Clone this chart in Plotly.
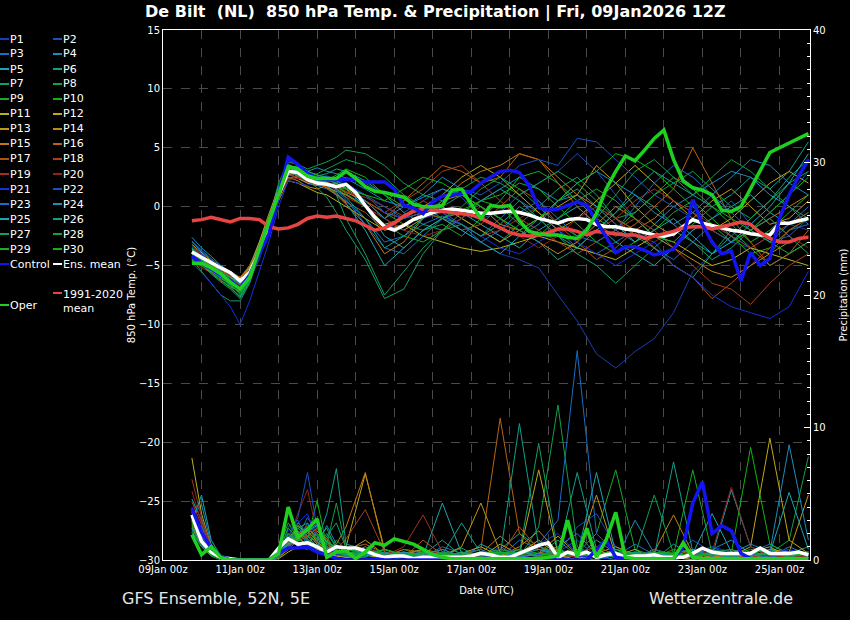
import plotly.graph_objects as go
import pandas as pd

# GFS ensemble 12Z run, 6-hourly steps from 09Jan 18z to 25Jan 18z
STEPS = pd.date_range("2026-01-09 18:00", "2026-01-25 18:00", freq="6h")
# members are read every 6h for the first 4 days, then every 12h
MEMBER_STEPS = list(range(0, 17)) + list(range(18, 65, 2))
MEMBER_TIMES = STEPS[MEMBER_STEPS]

# 850 hPa temperature (deg C), 6-hourly
CLIMATE_T = [-1.2, -1.1, -0.9, -1.1, -1.3, -1.0, -1.0, -1.1, -1.7, -1.9,
             -1.8, -1.5, -1.0, -0.8, -0.9, -0.8, -1.0, -1.2, -1.6, -2.0,
             -1.8, -1.4, -0.8, -0.4, -0.2, -0.3, -0.4, -0.45, -0.6, -0.7,
             -1.0, -1.4, -1.8, -2.2, -2.4, -2.5, -2.4, -2.2, -1.9, -1.9,
             -2.1, -2.4, -2.1, -2.2, -2.3, -2.4, -2.4, -2.7, -2.5, -2.3,
             -2.1, -1.8, -1.7, -1.7, -1.9, -1.7, -1.5, -1.3, -1.5, -2.2,
             -2.7, -3.0, -3.0, -2.7, -2.6]
MEAN_T = [-3.85, -4.3, -4.8, -5.2, -5.6, -6.3, -5.6, -3.8, -1.6, 1.0,
          3.0, 2.9, 2.3, 2.0, 1.9, 1.7, 1.9, 1.2, 0.1, -0.9,
          -1.7, -2.0, -1.6, -1.1, -0.8, -0.5, -0.3, -0.2, -0.3, -0.45,
          -0.55, -0.55, -0.45, -0.4, -0.5, -0.7, -1.0, -1.2, -1.4, -1.1,
          -1.0, -1.1, -1.5, -1.7, -1.7, -1.9, -2.0, -2.2, -2.4, -2.5,
          -2.3, -1.7, -1.1, -1.4, -1.6, -1.8, -2.0, -2.1, -2.3, -2.4,
          -2.4, -1.4, -1.4, -1.2, -1.0]
CONTROL_T = [-4.2, -4.8, -5.3, -5.8, -6.3, -6.9, -5.8, -4.0, -2.3, 1.0,
             4.2, 3.6, 2.8, 2.4, 2.3, 2.3, 2.3, 2.3, 2.1, 2.1,
             2.1, 1.5, 0.1, -0.1, -0.6, 0.4, 0.9, 1.0, 1.1, 1.3,
             2.0, 2.5, 3.0, 3.1, 2.9, 1.8, -0.1, -0.3, -0.2, 0.1,
             0.4, 0.1, -1.2, -2.6, -3.9, -3.4, -3.4, -3.7, -4.1, -3.9,
             -3.6, -2.5, 0.6, -1.5, -3.0, -4.0, -3.8, -6.3, -3.9, -5.0,
             -4.4, -1.0, 1.0, 2.6, 4.0]
OPER_T = [-4.8, -4.8, -5.2, -5.7, -6.4, -7.0, -6.0, -3.6, -1.4, 1.2,
          3.4, 3.2, 2.6, 2.4, 2.4, 2.4, 3.0, 2.4, 1.7, 1.3,
          1.2, 1.0, 0.8, 0.2, 0.0, 0.0, 0.1, 1.4, 1.5, 0.2,
          -1.0, 0.1, 0.0, 0.1, -1.2, -2.1, -2.3, -2.4, -2.4, -2.6,
          -2.7, -2.0, -0.6, 1.5, 3.0, 4.3, 3.9, 4.8, 5.8, 6.5,
          4.0, 2.2, 1.6, 1.4, 1.0, -0.3, -0.4, 0.0, 1.5, 3.0,
          4.6, 5.0, 5.4, 5.8, 6.2]

# precipitation (mm), 6-hourly
MEAN_P = [3.4, 1.4, 0.6, 0.2, 0.1, 0.0, 0.0, 0.0, 0.0, 0.9,
          1.6, 1.2, 1.3, 1.0, 0.6, 1.0, 0.9, 0.9, 0.7, 0.4,
          0.2, 0.3, 0.3, 0.1, 0.2, 0.2, 0.2, 0.2, 0.2, 0.3,
          0.5, 0.4, 0.2, 0.2, 0.5, 0.8, 1.1, 1.3, 0.2, 0.6,
          0.4, 0.6, 0.2, 0.4, 0.5, 0.2, 0.3, 0.3, 0.4, 0.2,
          0.2, 0.2, 0.5, 0.9, 0.6, 0.5, 0.5, 0.5, 0.5, 0.9,
          0.5, 0.5, 0.5, 0.6, 0.4]
CONTROL_P = [3.9, 2.1, 0.9, 0.3, 0.0, 0.0, 0.0, 0.0, 0.0, 0.5,
             0.9, 0.9, 1.0, 0.6, 0.4, 0.1, 0.0, 0.0, 0.0, 0.1,
             0.0, 0.0, 0.0, 0.0, 0.0, 0.0, 0.0, 0.0, 0.0, 0.0,
             0.0, 0.0, 0.0, 0.0, 0.0, 0.0, 0.0, 0.0, 0.0, 0.0,
             0.0, 0.0, 0.8, 1.5, 0.2, 0.1, 0.1, 0.1, 0.1, 0.1,
             0.1, 1.0, 4.3, 5.9, 2.0, 2.6, 2.2, 0.5, 0.1, 0.1,
             0.1, 0.1, 0.1, 0.1, 0.1]
OPER_P = [1.9, 0.4, 1.0, 0.2, 0.0, 0.0, 0.0, 0.0, 0.0, 0.5,
          4.0, 1.7, 2.3, 3.1, 0.2, 0.6, 0.7, 0.1, 0.6, 1.3,
          1.1, 1.6, 1.4, 1.2, 0.8, 0.4, 0.2, 0.1, 0.1, 0.1,
          0.1, 0.1, 0.1, 0.1, 0.1, 0.1, 0.1, 0.2, 0.3, 3.0,
          0.2, 2.4, 0.2, 1.5, 3.6, 0.2, 0.1, 0.1, 0.1, 0.1,
          0.1, 1.3, 0.2, 0.1, 0.1, 0.1, 0.1, 0.1, 0.1, 0.1,
          0.1, 0.1, 0.1, 0.1, 0.1]

MEMBER_NAMES = ["P%d" % n for n in range(1, 31)]

# member temperatures at MEMBER_TIMES (17 x 6h, then 24 x 12h)
MEMBER_T = [
    [-3.5, -4.0, -4.9, -5.5, -6.0, -7.0, -6.2, -4.5, -2.0, 0.5, 2.6, 3.0, 2.5, 2.2, 2.0, 1.4, 1.0,
     0.2, -1.5, -2.0, -1.0, -0.5, -2.0, -3.0, -4.0, -4.5, -5.2, -7.5, -9.7, -12.5, -13.7, -12.3, -11.2, -9.0, -5.5, -4.0, -3.0, -3.5, -2.5, -1.5, -2.0],  # P1
    [-4.2, -4.6, -5.0, -5.8, -6.5, -7.5, -6.0, -3.5, -1.0, 1.5, 3.5, 3.0, 2.4, 2.6, 2.2, 2.0, 2.5,
     2.0, 1.0, -0.5, 0.5, 1.5, 0.8, -1.0, -0.5, 1.0, 2.0, 3.0, 4.5, 3.0, 1.0, -1.0, -2.5, -3.5, -2.0, -1.0, 0.5, -1.5, -3.0, -2.5, -1.0],  # P2
    [-3.0, -3.8, -4.5, -5.0, -5.8, -6.6, -5.8, -4.0, -1.8, 0.8, 2.8, 2.4, 2.0, 1.8, 1.5, 1.0, 0.5,
     -1.0, -3.0, -2.5, -1.5, -0.8, -1.5, -2.5, -1.0, 0.5, -0.5, -2.0, -3.5, -4.0, -3.0, -2.0, -3.5, -4.5, -3.0, -1.5, -2.5, -3.5, -4.0, -2.0, -1.5],  # P3
    [-2.6, -3.5, -4.2, -5.0, -5.5, -6.0, -5.2, -3.2, -1.0, 1.8, 3.2, 3.5, 3.0, 3.3, 3.0, 2.8, 2.4,
     1.5, 0.5, 0.0, 0.8, 1.5, 1.0, 0.0, -1.0, -2.5, -1.5, 0.5, 1.0, -0.5, -2.0, -3.0, -1.5, 0.0, 1.0, 2.0, 3.0, 2.5, 1.0, 0.0, -1.5],  # P4
    [-4.0, -4.8, -5.5, -6.0, -6.2, -6.8, -5.5, -3.5, -1.2, 1.2, 3.2, 2.5, 2.0, 2.2, 2.5, 2.0, 1.5,
     0.0, -2.5, -3.5, -2.0, -1.0, -0.5, -1.5, -2.5, -3.5, -2.0, -1.0, 0.0, -1.5, -3.0, -4.0, -5.0, -3.5, -2.0, -1.0, 0.0, 1.0, -0.5, -1.5, -0.5],  # P5
    [-3.8, -4.5, -5.2, -5.5, -6.0, -6.5, -5.0, -3.0, -0.8, 1.5, 3.0, 2.6, 2.4, 2.6, 2.8, 3.2, 3.0,
     2.2, 1.0, -0.5, -1.5, -2.0, -1.0, 0.5, 1.5, 0.5, -1.0, -2.5, -3.5, -2.0, -0.5, 1.0, 0.0, -1.5, -3.0, -4.0, -2.5, -1.0, 0.5, 2.5, 4.0],  # P6
    [-4.5, -5.5, -6.5, -7.5, -8.0, -8.0, -6.5, -4.0, -1.5, 1.0, 3.2, 2.8, 2.5, 2.0, 1.8, 1.0, -1.0,
     -4.0, -7.5, -5.5, -3.5, -2.0, -1.0, -2.0, -3.0, -1.5, 0.0, 1.5, 2.5, 1.0, -1.0, -2.5, -3.5, -5.0, -6.0, -4.0, -2.0, -3.5, -5.0, -4.0, -3.0],  # P7
    [-3.5, -4.2, -5.0, -5.6, -6.0, -6.6, -5.8, -3.6, -1.0, 2.0, 3.8, 3.6, 3.2, 3.5, 3.8, 4.2, 4.8,
     4.5, 3.5, 2.0, 1.0, 0.5, 1.5, 2.5, 2.0, 1.0, 2.0, 3.0, 2.0, 0.5, -1.0, -0.5, 1.0, 2.0, 3.0, 1.5, 0.0, -1.0, 0.5, 2.0, 3.0],  # P8
    [-3.6, -4.3, -5.1, -5.6, -6.2, -7.0, -5.6, -3.4, -1.2, 1.4, 3.6, 3.2, 2.8, 2.4, 2.6, 2.2, 1.6,
     1.0, -0.5, -1.5, -2.0, -1.5, -2.5, -1.0, 0.5, 2.5, 3.0, 2.0, 0.5, -1.0, -2.0, -0.5, 1.0, 2.5, 1.5, 0.0, -1.5, -3.0, -2.0, -0.5, 1.0],  # P9
    [-4.4, -4.6, -5.3, -5.9, -6.7, -7.3, -6.0, -3.9, -1.5, 1.1, 3.3, 3.0, 2.6, 2.3, 2.2, 2.7, 3.2,
     2.5, 1.0, 0.0, -0.5, -1.0, -0.3, 0.5, 1.0, 2.0, 1.5, 0.0, -1.5, -3.0, -4.0, -3.0, -2.0, -0.5, 0.5, -1.0, -2.5, -4.0, -3.5, -2.0, -1.0],  # P10
    [-4.0, -4.5, -5.0, -5.3, -5.8, -6.0, -5.2, -3.8, -1.8, 0.5, 2.2, 2.0, 1.6, 1.2, 1.0, 0.5, 0.0,
     -1.0, -2.0, -1.5, -2.5, -3.0, -3.5, -3.8, -3.5, -3.0, -2.5, -3.0, -3.5, -4.0, -4.5, -3.5, -2.5, -3.0, -4.0, -5.0, -4.5, -3.5, -4.0, -4.5, -5.0],  # P11
    [-3.2, -3.9, -4.6, -5.2, -5.7, -6.2, -5.4, -3.6, -1.4, 1.2, 3.0, 2.6, 2.2, 2.0, 1.6, 1.3, 1.0,
     0.0, -1.5, -1.0, 0.0, 1.0, 2.5, 3.5, 2.5, 1.0, -0.5, -2.0, -1.0, 0.5, 2.0, 3.5, 2.0, 0.5, -1.0, -2.0, -1.0, 0.5, 2.0, 3.0, 2.0],  # P12
    [-4.6, -5.0, -5.5, -5.8, -6.0, -6.4, -5.2, -3.0, -0.6, 1.6, 2.8, 2.4, 2.0, 1.8, 1.9, 1.7, 1.2,
     0.5, -0.5, -1.0, -0.5, 0.0, -1.0, -2.0, -3.0, -2.0, -1.0, 0.0, 1.0, 3.5, 2.0, 0.0, -1.5, -2.5, -1.0, 0.5, 1.5, 0.0, -1.5, -1.0, 0.5],  # P13
    [-3.7, -4.4, -5.0, -5.4, -5.9, -6.1, -5.0, -3.3, -1.0, 1.0, 2.5, 2.2, 1.7, 1.5, 1.8, 2.0, 1.5,
     0.5, -1.0, -2.0, -1.0, 0.5, 1.0, 0.0, -1.5, -2.0, -3.0, -4.0, -3.0, -1.5, 0.0, -1.0, -2.5, -3.5, -4.5, -5.5, -6.0, -5.0, -4.0, -3.0, -2.5],  # P14
    [-4.3, -4.8, -5.6, -6.3, -6.8, -7.2, -5.9, -3.7, -1.3, 1.3, 3.1, 2.7, 2.4, 2.1, 1.6, 1.0, 0.2,
     -1.5, -4.0, -3.0, -1.0, 0.5, 2.0, 3.0, 3.5, 4.5, 4.0, 2.5, 1.0, 0.0, -1.0, -2.0, -1.0, 0.5, -0.5, -2.0, -3.0, -2.0, -1.0, 0.0, 1.0],  # P15
    [-4.0, -4.4, -4.9, -5.3, -5.6, -6.0, -5.0, -3.5, -1.2, 1.0, 2.4, 2.6, 2.8, 2.5, 2.0, 1.5, 1.0,
     0.0, -1.0, 0.5, 2.0, 3.5, 3.0, 2.0, 2.5, 4.5, 4.0, 2.0, 0.0, -1.5, -2.5, -1.5, 0.0, 1.5, 5.0, 2.0, -1.0, -3.0, -5.0, -4.0, -2.0],  # P16
    [-3.9, -4.6, -5.2, -5.7, -6.1, -6.7, -5.7, -3.9, -1.7, 0.9, 2.9, 2.6, 2.2, 2.0, 1.7, 1.1, 0.4,
     -0.5, -2.0, -1.5, -0.5, -1.0, -2.0, -1.5, 0.0, 1.5, 0.5, -1.5, -3.0, -4.5, -3.5, -2.0, -3.5, -5.0, -6.0, -7.8, -6.5, -5.0, -3.5, -2.0, -1.0],  # P17
    [-4.1, -4.4, -5.0, -5.5, -5.9, -6.4, -5.6, -3.7, -1.4, 1.2, 4.0, 3.5, 2.8, 2.4, 2.1, 1.8, 1.3,
     0.5, -0.5, 0.5, 1.5, 3.0, 3.5, 2.0, 0.5, -1.0, -2.0, -3.0, -4.0, -3.0, -2.0, -1.0, -2.0, -3.5, -5.0, -6.5, -7.0, -8.3, -6.5, -5.0, -4.0],  # P18
    [-3.4, -4.1, -4.8, -5.3, -5.8, -6.3, -5.5, -3.8, -1.6, 1.0, 2.7, 2.5, 2.1, 1.9, 1.8, 1.5, 1.2,
     0.8, 0.0, -0.8, 0.5, -0.5, -1.5, -2.5, -2.0, -1.0, 0.0, -1.5, -2.5, -2.0, -1.0, 0.5, 1.5, 0.5, -0.5, -1.5, -2.5, -3.5, -2.5, -1.5, -0.5],  # P19
    [-4.7, -5.2, -5.6, -6.0, -6.3, -6.9, -5.9, -4.1, -1.9, 0.6, 2.3, 2.4, 2.3, 2.1, 1.9, 1.4, 0.8,
     0.0, -1.0, -2.0, -2.5, -2.0, -1.0, 0.0, -1.0, -2.5, -3.5, -2.5, -1.0, 0.0, -1.0, -2.5, -3.0, -2.0, -1.0, -2.0, -3.0, -2.0, -1.0, -2.5, -3.5],  # P20
    [-4.8, -5.6, -6.5, -7.5, -8.5, -10.0, -8.0, -5.5, -3.0, 0.0, 2.2, 2.0, 1.8, 2.2, 2.6, 2.3, 2.0,
     1.0, -0.5, -1.0, 0.0, -0.5, -1.5, -2.5, -3.5, -4.0, -3.0, -2.0, -3.0, -4.0, -5.0, -4.0, -3.0, -5.0, -6.0, -7.5, -8.5, -9.0, -9.5, -8.5, -5.5],  # P21
    [-3.3, -4.0, -4.7, -5.4, -6.1, -7.2, -6.3, -4.2, -1.6, 1.3, 3.4, 2.9, 2.5, 2.3, 2.2, 2.1, 1.8,
     1.0, 0.0, -1.0, -0.5, 0.5, 1.5, 1.0, 2.0, 3.5, 4.0, 3.5, 5.8, 5.5, 4.0, 2.5, 1.0, 0.0, -1.0, -2.0, -3.0, -2.0, -0.5, 1.0, 3.0],  # P22
    [-2.9, -3.7, -4.4, -5.1, -5.8, -6.5, -5.6, -3.7, -1.5, 1.2, 3.3, 3.0, 2.6, 2.3, 2.0, 1.4, 0.6,
     -1.5, -3.5, -4.0, -2.5, -1.0, -1.5, -3.0, -2.0, -0.5, 0.5, -1.0, -2.5, -3.0, -2.0, 0.0, 2.0, 3.5, 2.5, 1.0, -0.5, -2.0, -3.0, -1.5, 0.0],  # P23
    [-4.5, -4.7, -5.4, -6.1, -6.6, -7.0, -5.7, -3.4, -1.1, 1.6, 3.4, 3.2, 3.0, 2.7, 2.5, 2.2, 1.8,
     0.5, -1.0, 0.0, 1.0, 2.5, 1.5, 0.5, 1.5, 2.5, 1.5, 0.5, 2.0, 3.0, 2.0, 1.0, -0.5, -1.5, -0.5, 1.0, 2.5, 4.0, 3.5, 2.0, 1.0],  # P24
    [-3.6, -4.2, -5.0, -5.6, -6.3, -6.9, -5.8, -3.8, -1.3, 1.3, 3.3, 3.0, 2.7, 2.2, 1.8, 1.2, 0.3,
     -2.0, -5.0, -3.5, -2.0, -1.0, -2.0, -3.0, -4.0, -2.5, -1.0, 0.5, 1.5, 0.0, -1.5, -3.0, -2.0, -1.0, -2.5, -4.0, -3.0, -1.5, 0.0, 2.0, 4.5],  # P25
    [-4.2, -4.9, -5.7, -6.4, -7.0, -7.8, -6.4, -4.0, -1.5, 1.2, 3.2, 2.7, 2.2, 2.4, 2.1, 1.5, 0.8,
     -1.0, -3.5, -2.5, -1.0, 0.0, 1.0, 0.0, -1.0, -2.0, -3.0, -4.5, -3.5, -2.0, -0.5, 1.5, 3.0, 2.0, 1.0, 0.0, 1.0, 2.5, 1.5, 3.0, 5.5],  # P26
    [-3.7, -4.5, -5.3, -6.0, -6.8, -7.7, -6.3, -4.2, -1.8, 0.9, 3.0, 2.6, 2.2, 1.6, 0.8, -0.5, -2.0,
     -4.5, -7.8, -7.0, -4.0, -2.0, -1.5, -2.5, -1.5, 0.0, -1.0, -2.5, -4.0, -5.0, -6.5, -5.0, -3.5, -2.0, -3.0, -4.5, -3.5, -2.0, -1.0, -2.5, -4.0],  # P27
    [-4.0, -4.6, -5.4, -6.0, -6.6, -7.4, -6.1, -4.0, -1.7, 1.0, 3.1, 2.8, 2.5, 2.8, 3.2, 3.6, 4.0,
     3.5, 2.5, 1.0, 0.0, -1.0, 0.0, 1.5, 2.5, 1.5, 0.0, -1.5, -2.5, -1.0, 1.0, 3.0, 4.0, 2.5, 1.0, 2.5, 4.0, 3.0, 1.5, 0.0, -1.0],  # P28
    [-3.9, -4.4, -5.0, -5.5, -6.0, -6.6, -5.5, -3.6, -1.3, 1.2, 3.2, 3.4, 3.0, 2.7, 2.4, 1.9, 1.1,
     0.0, -1.5, -2.5, -3.0, -2.0, -0.5, 0.5, 0.0, -1.5, -2.5, -1.0, 0.5, 1.5, 0.5, -1.0, -2.5, -3.0, -1.5, 0.0, -1.0, -2.0, -3.0, -4.0, -3.0],  # P29
    [-4.6, -5.0, -5.6, -6.2, -6.9, -7.6, -6.2, -3.9, -1.4, 1.3, 3.5, 3.1, 2.7, 2.3, 2.0, 1.7, 1.5,
     1.0, 0.5, 1.5, 2.5, 2.0, 1.0, 0.0, -1.0, -2.0, -1.0, 0.5, 2.0, 3.0, 4.5, 4.0, 3.0, 1.5, 0.0, -1.5, -3.0, -2.0, -0.5, 1.0, 2.5],  # P30
]

# member precipitation at MEMBER_TIMES (mm)
MEMBER_P = [
    [4.0, 2.0, 0.8, 0.2, 0, 0, 0, 0, 0, 0.5, 1.5, 2.0, 2.5, 1.5, 1.0, 0.5, 0.8,
     1.2, 0.3, 0.2, 0.5, 0.0, 0.3, 0.8, 0.0, 0.5, 1.2, 2.0, 0.5, 0.3, 0.0, 0.0, 0.2, 0.5, 0.0, 0.3, 0.0, 0.2, 0.5, 0.0, 0.3],  # P1
    [3.5, 1.8, 0.6, 0.1, 0, 0, 0, 0, 0, 0.2, 2.5, 3.0, 1.5, 1.0, 0.6, 0.4, 0.2,
     0.5, 0.2, 0.6, 0.0, 0.4, 0.0, 0.2, 1.0, 0.3, 0.0, 0.5, 2.5, 3.5, 1.0, 0.2, 0.0, 0.4, 1.5, 0.6, 0.2, 0.0, 0.3, 0.8, 0.2],  # P2
    [2.5, 1.5, 0.5, 0.1, 0, 0, 0, 0, 0, 0.3, 1.0, 1.8, 3.2, 2.0, 0.8, 0.3, 0.5,
     0.8, 0.1, 0.3, 0.2, 1.0, 0.5, 0.0, 0.2, 1.5, 0.8, 0.2, 0.0, 0.6, 0.3, 1.2, 0.4, 0.0, 0.5, 1.0, 0.3, 0.6, 1.2, 0.5, 0.0],  # P3
    [3.2, 4.2, 1.2, 0.3, 0, 0, 0, 0, 0, 0.4, 1.8, 2.2, 1.2, 0.8, 0.5, 0.2, 0.4,
     0.3, 0.5, 0.2, 0.0, 0.6, 0.2, 0.4, 0.0, 0.3, 0.5, 1.0, 2.0, 0.4, 0.0, 3.0, 0.5, 0.2, 0.0, 0.8, 1.5, 0.5, 0.2, 1.0, 0.4],  # P4
    [4.6, 3.0, 1.0, 0.2, 0, 0, 0, 0, 0, 0.2, 0.8, 1.5, 2.0, 2.8, 1.2, 0.6, 0.3,
     0.4, 0.0, 0.5, 0.8, 0.2, 0.0, 1.2, 0.5, 0.0, 0.3, 0.8, 0.2, 1.5, 0.5, 0.0, 0.3, 0.2, 0.6, 0.3, 5.3, 1.0, 0.4, 0.2, 0.6],  # P5
    [2.8, 2.2, 0.7, 0.2, 0, 0, 0, 0, 0, 0.5, 1.2, 2.6, 1.8, 1.0, 2.0, 1.0, 0.4,
     0.6, 0.3, 0.0, 0.4, 1.5, 0.3, 0.0, 0.8, 2.0, 1.0, 0.5, 6.6, 0.8, 0.2, 0.4, 0.0, 1.2, 0.3, 0.0, 0.5, 0.2, 0.8, 0.3, 0.0],  # P6
    [2.0, 1.2, 0.4, 0.1, 0, 0, 0, 0, 0, 0.6, 2.0, 1.0, 0.8, 1.6, 2.4, 0.8, 0.2,
     0.2, 0.8, 0.4, 0.0, 0.3, 0.9, 0.2, 0.0, 0.6, 0.4, 1.5, 0.3, 0.0, 0.8, 0.2, 0.5, 0.0, 0.3, 0.6, 0.2, 0.4, 0.0, 0.5, 1.0],  # P7
    [3.0, 1.6, 0.5, 0.1, 0, 0, 0, 0, 0, 0.3, 1.0, 2.4, 2.8, 1.2, 0.6, 1.5, 0.8,
     0.5, 0.2, 0.8, 0.3, 0.0, 0.5, 0.3, 0.6, 0.2, 2.5, 11.7, 1.0, 0.3, 0.5, 0.0, 0.8, 0.2, 0.0, 0.4, 0.6, 0.2, 0.5, 1.5, 7.8],  # P8
    [2.2, 1.0, 0.3, 0.0, 0, 0, 0, 0, 0, 0.8, 2.8, 1.6, 1.2, 0.9, 1.8, 0.5, 0.3,
     0.3, 0.5, 0.2, 0.6, 0.2, 0.0, 0.4, 0.2, 0.8, 0.3, 0.0, 0.5, 2.0, 6.8, 0.8, 0.3, 0.0, 0.5, 0.2, 0.0, 0.6, 0.3, 0.2, 0.5],  # P9
    [2.6, 1.4, 0.6, 0.2, 0, 0, 0, 0, 0, 0.2, 1.5, 2.0, 1.6, 4.5, 1.0, 0.6, 0.4,
     0.7, 0.4, 0.0, 0.3, 0.5, 0.2, 0.0, 0.4, 0.3, 1.0, 0.6, 0.2, 0.0, 0.4, 0.6, 0.0, 0.3, 0.8, 0.2, 0.5, 8.5, 1.2, 0.4, 0.3],  # P10
    [7.7, 3.5, 1.0, 0.2, 0, 0, 0, 0, 0, 0.1, 0.6, 1.0, 1.4, 0.8, 0.5, 0.3, 0.2,
     0.4, 0.1, 0.3, 0.0, 0.2, 0.5, 1.0, 0.3, 0.5, 1.5, 0.4, 0.0, 0.8, 0.2, 0.0, 0.3, 0.5, 0.2, 0.0, 0.4, 0.6, 1.0, 0.2, 0.0],  # P11
    [2.4, 1.2, 0.4, 0.1, 0, 0, 0, 0, 0, 0.3, 1.2, 1.6, 2.2, 1.4, 0.7, 0.5, 1.0,
     6.5, 0.8, 0.3, 0.4, 0.0, 0.6, 0.2, 1.2, 0.4, 6.8, 0.5, 0.2, 0.6, 0.3, 0.8, 0.0, 0.4, 0.2, 0.6, 0.3, 1.0, 9.2, 1.5, 0.5],  # P12
    [3.6, 1.9, 0.6, 0.2, 0, 0, 0, 0, 0, 0.4, 1.4, 1.8, 1.0, 2.2, 1.4, 0.4, 0.6,
     1.5, 0.4, 0.6, 0.2, 0.3, 1.0, 4.3, 0.6, 0.2, 0.5, 1.8, 0.4, 4.9, 0.3, 0.2, 0.8, 0.4, 0.0, 0.6, 0.3, 0.2, 0.8, 0.6, 4.9],  # P13
    [2.9, 1.5, 0.5, 0.1, 0, 0, 0, 0, 0, 0.2, 0.8, 2.0, 2.4, 1.8, 0.9, 0.6, 0.3,
     0.8, 0.2, 0.4, 0.8, 0.5, 0.2, 0.6, 0.3, 1.0, 2.2, 0.6, 0.3, 0.5, 1.0, 0.4, 0.6, 3.4, 0.5, 0.2, 0.4, 0.3, 0.2, 0.6, 0.4],  # P14
    [3.3, 2.1, 0.7, 0.2, 0, 0, 0, 0, 0, 0.5, 1.6, 2.6, 2.0, 1.2, 0.8, 1.2, 2.5,
     6.6, 0.6, 0.2, 0.5, 0.3, 0.0, 0.5, 1.8, 0.6, 0.3, 0.8, 0.2, 0.4, 0.6, 0.2, 0.3, 0.5, 0.8, 0.3, 0.2, 0.5, 0.4, 0.2, 0.6],  # P15
    [2.7, 1.3, 0.4, 0.1, 0, 0, 0, 0, 0, 0.3, 1.1, 1.4, 1.8, 2.4, 1.6, 0.7, 0.4,
     1.0, 0.3, 0.8, 0.6, 0.2, 0.4, 0.8, 10.7, 2.0, 0.6, 0.3, 0.5, 1.0, 0.4, 0.2, 0.6, 0.3, 0.2, 0.5, 0.8, 0.3, 0.5, 0.2, 0.4],  # P16
    [3.9, 2.4, 0.8, 0.2, 0, 0, 0, 0, 0, 0.4, 1.3, 2.2, 1.6, 1.0, 0.6, 0.4, 0.8,
     1.2, 0.5, 0.2, 1.5, 0.4, 0.2, 0.5, 0.3, 2.5, 0.8, 0.4, 0.2, 0.6, 0.3, 0.5, 0.2, 0.8, 0.4, 0.3, 0.6, 0.2, 0.5, 0.3, 0.2],  # P17
    [4.4, 2.6, 0.9, 0.2, 0, 0, 0, 0, 0, 0.2, 0.9, 1.7, 2.6, 1.4, 1.0, 0.8, 1.6,
     3.8, 0.6, 0.4, 0.3, 0.8, 0.2, 0.4, 0.6, 0.3, 1.0, 0.5, 0.8, 0.2, 0.5, 0.4, 0.3, 0.2, 0.6, 0.4, 0.2, 0.5, 0.3, 0.6, 0.2],  # P18
    [6.1, 3.2, 1.0, 0.3, 0, 0, 0, 0, 0, 0.3, 1.0, 1.5, 2.0, 1.3, 0.7, 0.5, 0.3,
     0.6, 0.3, 1.0, 3.4, 0.6, 0.3, 0.2, 0.5, 0.8, 0.4, 0.3, 0.5, 0.2, 0.6, 0.3, 0.5, 0.2, 0.3, 0.6, 0.4, 0.2, 0.5, 0.3, 0.4],  # P19
    [5.2, 2.8, 0.9, 0.2, 0, 0, 0, 0, 0, 0.4, 1.5, 3.5, 5.3, 2.0, 1.0, 0.6, 0.5,
     0.8, 0.4, 0.2, 0.6, 0.3, 0.5, 0.2, 0.8, 0.4, 0.3, 0.5, 0.2, 0.6, 0.3, 0.2, 0.4, 0.3, 0.5, 0.6, 5.5, 1.0, 0.3, 0.2, 0.4],  # P20
    [3.8, 2.0, 0.7, 0.2, 0, 0, 0, 0, 0, 0.6, 2.2, 2.8, 3.5, 1.5, 0.8, 0.4, 0.6,
     0.5, 0.2, 0.6, 0.2, 0.4, 0.2, 0.5, 0.3, 0.2, 0.4, 0.6, 0.3, 0.2, 0.0, 0.2, 0.3, 0.5, 0.2, 1.0, 0.6, 0.3, 0.5, 0.8, 0.4],  # P21
    [3.1, 1.7, 0.6, 0.1, 0, 0, 0, 0, 0, 0.3, 1.8, 3.2, 6.6, 2.4, 1.0, 0.5, 0.3,
     0.4, 0.3, 0.5, 0.2, 0.6, 0.3, 0.2, 0.5, 0.8, 0.4, 0.6, 1.5, 0.3, 0.5, 0.2, 0.8, 0.4, 0.3, 0.6, 0.2, 0.5, 0.3, 0.4, 0.6],  # P22
    [2.3, 1.1, 0.4, 0.1, 0, 0, 0, 0, 0, 0.2, 1.0, 1.5, 2.8, 1.8, 1.2, 0.6, 0.4,
     0.6, 0.2, 0.4, 0.6, 0.3, 0.5, 0.8, 0.2, 0.6, 1.2, 3.0, 15.8, 2.0, 0.5, 0.3, 0.6, 0.2, 0.5, 0.3, 0.6, 0.4, 0.2, 0.5, 0.3],  # P23
    [3.4, 2.5, 0.8, 0.2, 0, 0, 0, 0, 0, 0.4, 1.4, 2.0, 1.4, 1.0, 2.6, 1.2, 0.5,
     0.3, 0.6, 0.2, 0.4, 0.8, 0.3, 0.5, 0.6, 0.2, 0.5, 0.3, 0.8, 0.4, 0.2, 0.6, 0.3, 0.5, 0.8, 0.3, 0.5, 1.2, 0.6, 8.7, 1.5],  # P24
    [2.9, 4.9, 1.5, 0.3, 0, 0, 0, 0, 0, 0.3, 1.2, 1.8, 2.2, 2.6, 1.4, 0.8, 0.4,
     0.5, 0.2, 0.6, 0.3, 4.3, 0.5, 0.3, 0.6, 0.4, 0.8, 0.5, 0.3, 6.6, 0.5, 0.3, 0.6, 0.2, 0.5, 3.5, 0.6, 0.3, 0.5, 5.1, 0.8],  # P25
    [3.7, 2.2, 0.7, 0.2, 0, 0, 0, 0, 0, 0.5, 1.6, 2.4, 1.8, 1.4, 3.5, 6.9, 1.2,
     0.8, 0.4, 0.3, 0.6, 0.4, 2.8, 0.5, 0.3, 10.3, 1.0, 0.4, 0.6, 0.3, 0.8, 0.5, 0.3, 7.4, 0.6, 0.4, 0.2, 0.5, 0.8, 0.3, 0.6],  # P26
    [2.5, 1.3, 0.5, 0.1, 0, 0, 0, 0, 0, 0.4, 1.7, 2.2, 1.5, 1.1, 1.8, 2.8, 0.9,
     0.4, 0.8, 0.3, 0.5, 0.2, 0.6, 0.4, 0.8, 0.5, 8.8, 0.6, 0.3, 0.5, 0.2, 0.6, 0.4, 0.3, 0.5, 0.8, 0.4, 0.3, 0.6, 0.2, 0.5],  # P27
    [3.0, 1.6, 0.6, 0.2, 0, 0, 0, 0, 0, 0.3, 1.3, 2.8, 2.0, 1.6, 1.2, 4.3, 0.8,
     0.6, 0.3, 0.5, 0.2, 0.6, 0.4, 0.3, 0.5, 0.6, 0.3, 0.8, 0.4, 0.3, 0.6, 0.4, 4.9, 0.5, 0.3, 0.6, 0.8, 0.3, 0.5, 0.4, 0.6],  # P28
    [2.1, 1.0, 0.4, 0.1, 0, 0, 0, 0, 0, 0.6, 2.4, 1.6, 1.2, 2.0, 1.5, 0.6, 0.3,
     0.5, 0.8, 0.4, 0.2, 0.5, 0.3, 0.6, 0.4, 0.8, 0.5, 0.3, 0.6, 0.4, 0.5, 0.3, 0.6, 0.4, 6.8, 0.5, 0.3, 0.6, 0.4, 0.3, 0.5],  # P29
    [2.8, 1.5, 0.5, 0.2, 0, 0, 0, 0, 0, 0.4, 2.0, 1.4, 2.4, 1.6, 1.0, 0.8, 0.5,
     0.7, 0.5, 0.3, 0.6, 0.4, 0.3, 0.5, 0.6, 0.4, 0.3, 0.6, 0.5, 0.3, 0.8, 0.4, 0.5, 0.6, 0.3, 0.5, 0.4, 0.8, 0.6, 0.4, 0.5],  # P30
]

# colour ramp of the members (blue -> green -> yellow -> red, then again)
MEMBER_COLORS = [
    "#1a3cb4", "#1a50b8", "#1a6ec0", "#1a8cc0", "#18a6b0", "#10a08a", "#10a064", "#10a046", "#18aa28", "#10b410",
    "#b8b418", "#c0a818", "#c09818", "#c08818", "#c07818", "#b86412", "#b05012", "#a84020", "#a03020", "#902222",
    "#1432d8", "#1a50c0", "#1a6ec0", "#1a8cc0", "#18a6b0", "#10a08a", "#10a064", "#10a046", "#18aa28", "#10b410",
]
CONTROL_COLOR = "#1414f0"
MEAN_COLOR = "#ffffff"
OPER_COLOR = "#20d020"
CLIMATE_COLOR = "#e84444"

# plot box in pixels, used to place the hand-made legend
L, R, T, B = 163, 810, 30, 560


def px_x(px):
    return (px - L) / (R - L)


def px_y(py):
    return (B - py) / (B - T)


fig = go.Figure()

for name, col, temps, rain in zip(MEMBER_NAMES, MEMBER_COLORS, MEMBER_T, MEMBER_P):
    fig.add_trace(go.Scatter(x=MEMBER_TIMES, y=temps, mode="lines", name=name,
                             line=dict(color=col, width=1), yaxis="y"))
    fig.add_trace(go.Scatter(x=MEMBER_TIMES, y=rain, mode="lines", name=name,
                             line=dict(color=col, width=1), yaxis="y2"))

# precipitation of the highlighted runs
for vals, col in [(MEAN_P, MEAN_COLOR), (CONTROL_P, CONTROL_COLOR), (OPER_P, OPER_COLOR)]:
    fig.add_trace(go.Scatter(x=STEPS, y=vals, mode="lines",
                             line=dict(color=col, width=3.5), yaxis="y2"))

# temperature of the highlighted runs
for vals, col in [(MEAN_T, MEAN_COLOR), (CLIMATE_T, CLIMATE_COLOR),
                  (CONTROL_T, CONTROL_COLOR), (OPER_T, OPER_COLOR)]:
    fig.add_trace(go.Scatter(x=STEPS, y=vals, mode="lines",
                             line=dict(color=col, width=3.5), yaxis="y"))

# legend drawn by hand: two columns like the original
legend_left = [(MEMBER_NAMES[k], MEMBER_COLORS[k]) for k in range(0, 30, 2)] + [("Control", CONTROL_COLOR)]
legend_right = [(MEMBER_NAMES[k], MEMBER_COLORS[k]) for k in range(1, 30, 2)] + [("Ens. mean", MEAN_COLOR)]
entries = []
for r, (txt, col) in enumerate(legend_left):
    entries.append((0, 39 + 15 * r, txt, col))
for r, (txt, col) in enumerate(legend_right):
    entries.append((53, 39 + 15 * r, txt, col))
entries.append((0, 305, "Oper", OPER_COLOR))
entries.append((53, 293, "1991-2020<br>mean", CLIMATE_COLOR))

shapes = []
annotations = []
for x0, y0, txt, col in entries:
    shapes.append(dict(type="line", xref="paper", yref="paper",
                       x0=px_x(x0), x1=px_x(x0 + 9), y0=px_y(y0), y1=px_y(y0),
                       line=dict(color=col, width=2)))
    multi = "<br>" in txt
    annotations.append(dict(xref="paper", yref="paper", x=px_x(x0 + 8),
                            y=px_y(y0 - 7) if multi else px_y(y0),
                            xanchor="left", yanchor="top" if multi else "middle",
                            text=txt, showarrow=False, align="left",
                            font=dict(size=11, color="white")))

annotations.append(dict(xref="paper", yref="paper", x=px_x(435), y=px_y(12),
                        xanchor="center", yanchor="middle", showarrow=False,
                        text="<b>De Bilt\u00a0 (NL)\u00a0 850 hPa Temp. &amp; Precipitation | Fri, 09Jan2026 12Z</b>",
                        font=dict(size=16, color="white")))
annotations.append(dict(xref="paper", yref="paper", x=px_x(120), y=px_y(598),
                        xanchor="left", yanchor="middle", showarrow=False,
                        text="GFS Ensemble, 52N, 5E", font=dict(size=16, color="#e6e6e6")))
annotations.append(dict(xref="paper", yref="paper", x=px_x(795), y=px_y(598),
                        xanchor="right", yanchor="middle", showarrow=False,
                        text="Wetterzentrale.de", font=dict(size=16, color="#e6e6e6")))

grid = dict(showgrid=True, gridcolor="#4a4a4a", griddash="dash", gridwidth=1)

fig.update_layout(
    width=850, height=620,
    margin=dict(l=L, r=850 - R, t=T, b=620 - B, autoexpand=False),
    paper_bgcolor="black", plot_bgcolor="black",
    font=dict(family="DejaVu Sans", color="white", size=10),
    showlegend=False,
    shapes=shapes, annotations=annotations,
    xaxis=dict(type="date", range=["2026-01-09 00:00", "2026-01-25 19:00"],
               tick0="2026-01-09", dtick=2 * 86400000, tickformat="%d%b %Hz",
               minor=dict(dtick=86400000, showgrid=True, gridcolor="#4a4a4a", griddash="dash"),
               showline=True, linecolor="white", mirror=True, ticks="", automargin=False,
               title=dict(text="Date (UTC)", font=dict(size=10), standoff=12),
               zeroline=False, **grid),
    yaxis=dict(range=[-30, 15], dtick=5, showline=True, linecolor="white", ticks="", automargin=False,
               title=dict(text="850 hPa Temp. (°C)", font=dict(size=10), standoff=1),
               zeroline=False, **grid),
    yaxis2=dict(range=[0, 40], dtick=10, overlaying="y", side="right", showgrid=False,
                showline=True, linecolor="white", ticks="inside", ticklen=6, tickcolor="white",
                minor=dict(dtick=1, ticks="inside", ticklen=3, tickcolor="white"), automargin=False,
                title=dict(text="Precipitation (mm)", font=dict(size=10), standoff=15),
                zeroline=False),
)

# drop the page's default 8px body margin so the figure sits at the window corner
fig.write_html("out.html", config={"displayModeBar": False},
               post_script="document.body.style.margin='0';document.body.style.background='black';")
